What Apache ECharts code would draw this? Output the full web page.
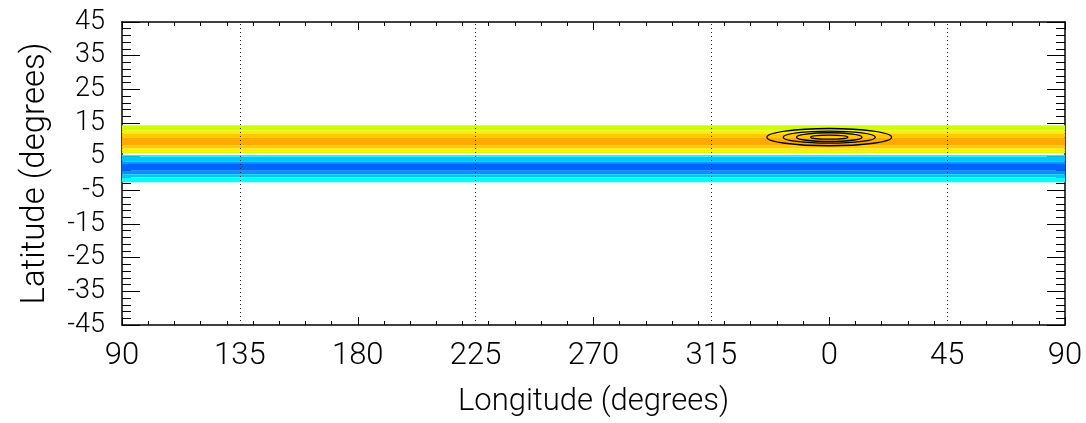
<!DOCTYPE html>
<html>
<head>
<meta charset="utf-8">
<script src="https://cdn.jsdelivr.net/npm/echarts@6/dist/echarts.min.js"></script>
<style>
  html, body { margin: 0; padding: 0; background: #fff; }
  #main { width: 1086px; height: 423px; }
</style>
</head>
<body>
<div id="main"></div>
<script>
// 纬向色带：每段的上下纬度与等级（随经度不变）
var bandTop    = [14.3, 12.8, 11.9, 10.7, 8.4, 7.4, 6.6,  5.5, 5.0, 3.6, 2.8, 0.8, -0.2, -1.1];
var bandBottom = [12.8, 11.9, 10.7, 8.4, 7.4, 6.6, 6.0,  5.0, 3.6, 2.8, 0.8, -0.2, -1.1, -2.6];
var bandLevel  = [1, 2, 3, 4, 3, 2, 1,  -1, -2, -3, -4, -3, -2, -1];
var levelValues = [-4, -3, -2, -1, 1, 2, 3, 4];
var levelColors = ['#0064ff', '#0096ff', '#00c8ff', '#00ffff', '#ccff00', '#ffee00', '#ffc800', '#ffaa00'];

// 等值线（椭圆）：中心经纬度与半轴（度）
var contourLon = 360;
var contourLat = 10.8;
var contourRx = [23.8, 17.6, 12.5, 7.1];
var contourRy = [2.56, 1.8, 1.3, 0.6];

// 虚线经度与刻度标签
var dottedLon = [135, 225, 315, 405];
var lonLabels = [90, 135, 180, 225, 270, 315, 0, 45, 90];

var chart = echarts.init(document.getElementById('main'));

var bandData = [];
for (var i = 0; i < bandTop.length; i++) {
    bandData.push([bandTop[i], bandBottom[i], bandLevel[i]]);
}
var contourData = [];
for (var i = 0; i < contourRx.length; i++) {
    contourData.push([contourLon, contourLat, contourRx[i], contourRy[i]]);
}
var pieces = [];
for (var i = 0; i < levelValues.length; i++) {
    pieces.push({ value: levelValues[i], color: levelColors[i] });
}

var labelFont = 'Roboto';
var tickColor = '#000';

var option = {
    backgroundColor: '#fff',
    animation: false,
    grid: { left: 122, right: 21, top: 22, bottom: 96 },
    visualMap: {
        show: false,
        type: 'piecewise',
        seriesIndex: 0,
        dimension: 2,
        pieces: pieces
    },
    xAxis: [
        {
            type: 'value', position: 'bottom', min: 90, max: 450, interval: 90,
            axisLine: { show: true, onZero: false, lineStyle: { color: '#000', width: 1.5 } },
            axisTick: { show: true, inside: true, length: 8, lineStyle: { color: tickColor, width: 1 } },
            minorTick: { show: true, splitNumber: 9, length: 4, lineStyle: { color: tickColor, width: 1 } },
            axisLabel: { show: false },
            splitLine: { show: false },
            name: 'Longitude (degrees)', nameLocation: 'middle', nameGap: 62,
            nameTextStyle: { fontFamily: labelFont, fontWeight: 300, fontSize: 31, color: '#000' }
        },
        {
            type: 'value', position: 'bottom', min: 90, max: 450, interval: 45,
            axisLine: { show: false }, axisTick: { show: false }, splitLine: { show: false },
            axisLabel: {
                margin: 16, fontFamily: labelFont, fontWeight: 300, fontSize: 31, color: '#000',
                formatter: function (v) { return String(lonLabels[Math.round((v - 90) / 45)]); }
            }
        },
        {
            type: 'value', position: 'top', min: 90, max: 450, interval: 90,
            axisLine: { show: true, onZero: false, lineStyle: { color: '#000', width: 1.5 } },
            axisTick: { show: true, inside: true, length: 8, lineStyle: { color: tickColor, width: 1 } },
            minorTick: { show: true, splitNumber: 9, length: 4, lineStyle: { color: tickColor, width: 1 } },
            axisLabel: { show: false }, splitLine: { show: false }
        }
    ],
    yAxis: [
        {
            type: 'value', position: 'left', min: -45, max: 45, interval: 10,
            axisLine: { show: true, onZero: false, lineStyle: { color: '#000', width: 1.5 } },
            axisTick: { show: true, inside: true, length: 18, lineStyle: { color: tickColor, width: 1 } },
            minorTick: { show: true, splitNumber: 5, length: 9, lineStyle: { color: tickColor, width: 1 } },
            axisLabel: { margin: 17, fontFamily: labelFont, fontWeight: 300, fontSize: 27, color: '#000' },
            splitLine: { show: false },
            name: 'Latitude (degrees)', nameLocation: 'middle', nameGap: 70,
            nameTextStyle: { fontFamily: labelFont, fontWeight: 300, fontSize: 33, color: '#000' }
        },
        {
            type: 'value', position: 'right', min: -45, max: 45, interval: 10,
            axisLine: { show: true, onZero: false, lineStyle: { color: '#000', width: 1.5 } },
            axisTick: { show: true, inside: true, length: 18, lineStyle: { color: tickColor, width: 1 } },
            minorTick: { show: true, splitNumber: 5, length: 9, lineStyle: { color: tickColor, width: 1 } },
            axisLabel: { show: false }, splitLine: { show: false }
        }
    ],
    series: [
        {
            type: 'custom',
            name: 'band',
            xAxisIndex: 0, yAxisIndex: 0,
            z: 1,
            data: bandData,
            encode: { y: [0, 1] },
            renderItem: function (params, api) {
                var p1 = api.coord([90, api.value(0)]);
                var p2 = api.coord([450, api.value(1)]);
                return {
                    type: 'rect',
                    shape: { x: p1[0], y: p1[1], width: p2[0] - p1[0], height: p2[1] - p1[1] },
                    style: { fill: api.visual('color') }
                };
            }
        },
        {
            type: 'custom',
            name: 'contour',
            xAxisIndex: 0, yAxisIndex: 0,
            z: 3,
            data: contourData,
            encode: { x: 0, y: 1 },
            renderItem: function (params, api) {
                var c = api.coord([api.value(0), api.value(1)]);
                var s = api.size([api.value(2), api.value(3)]);
                return {
                    type: 'ellipse',
                    shape: { cx: c[0], cy: c[1], rx: s[0], ry: s[1] },
                    style: { fill: 'none', stroke: '#000', lineWidth: 1.3 }
                };
            }
        },
        {
            type: 'line',
            name: 'dotted',
            xAxisIndex: 0, yAxisIndex: 0,
            z: 4,
            data: [],
            markLine: {
                silent: true,
                symbol: 'none',
                label: { show: false },
                lineStyle: { color: '#222', type: [1, 3], width: 1 },
                data: dottedLon.map(function (v) { return { xAxis: v }; })
            }
        }
    ]
};

chart.setOption(option);
</script>
</body>
</html>
